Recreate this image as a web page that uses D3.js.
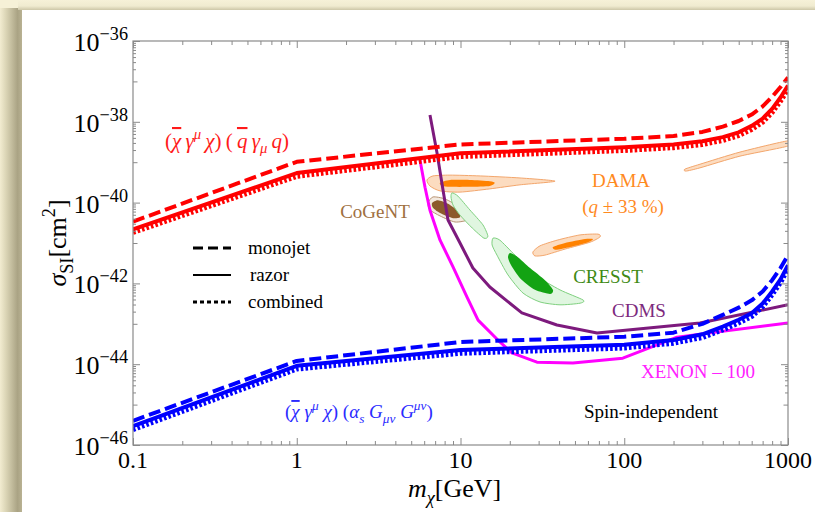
<!DOCTYPE html>
<html>
<head>
<meta charset="utf-8">
<script src="https://cdn.jsdelivr.net/npm/d3@7"></script>
<style>
  html, body { margin: 0; padding: 0; background: #f6f1d7; overflow: hidden; }
  svg { display: block; }
  .bar { text-decoration: overline; }
</style>
</head>
<body>
<svg id="chart" width="815" height="512"></svg>
<script>
// ---------------------------------------------------------------
// Collider bounds: dark-matter mass grid (GeV) and log10(sigma_SI / cm^2)
const massGrid = [0.1, 1, 10, 100, 200, 300, 400, 500, 600, 700, 800, 900, 1000];

// vector operator coupling to quarks
const vecMonojet  = [-40.47, -38.99, -38.56, -38.42, -38.35, -38.25, -38.12, -37.98, -37.82, -37.62, -37.38, -37.14, -36.90];
const vecRazor    = [-40.66, -39.27, -38.78, -38.63, -38.56, -38.48, -38.38, -38.26, -38.10, -37.92, -37.68, -37.40, -37.10];
const vecCombined = [-40.74, -39.35, -38.86, -38.71, -38.64, -38.56, -38.46, -38.34, -38.19, -38.01, -37.77, -37.49, -37.19];

// vector operator coupling to gluons
const gluMonojet  = [-45.40, -43.92, -43.45, -43.32, -43.22, -43.00, -42.78, -42.60, -42.42, -42.20, -41.92, -41.62, -41.30];
const gluRazor    = [-45.53, -44.04, -43.65, -43.52, -43.40, -43.26, -43.07, -42.90, -42.74, -42.50, -42.20, -41.90, -41.55];
const gluCombined = [-45.62, -44.12, -43.73, -43.60, -43.48, -43.34, -43.15, -42.98, -42.82, -42.58, -42.28, -41.98, -41.63];

// direct-detection exclusion limits: [mass GeV, log10 sigma]
const xenon100 = [[5.66, -38.95], [6.07, -39.62], [6.51, -40.19], [7.50, -40.93], [9.00, -41.59], [10.96, -42.34],
                  [12.8, -42.91], [17.4, -43.45], [20.6, -43.72], [29.3, -43.95], [48.6, -43.97], [98, -43.85],
                  [210, -43.33], [1000, -42.98]];
const cdms = [[6.51, -37.83], [7.19, -38.77], [7.82, -39.69], [8.39, -40.43], [9.93, -41.00], [11.9, -41.62],
              [15.1, -42.09], [23.7, -42.73], [38.8, -43.03], [68.2, -43.23], [290, -42.98], [1000, -42.53]];

// signal regions (contour outlines): [mass GeV, log10 sigma]
const damaOuterA = [[6.24, -39.44], [6.79, -39.34], [8.63, -39.32], [13.2, -39.34], [23.1, -39.39], [37.8, -39.47],
                    [23.1, -39.56], [15.1, -39.66], [9.93, -39.74], [7.50, -39.71], [6.51, -39.59]];
const damaInnerA = [[7.50, -39.51], [8.63, -39.44], [11.4, -39.44], [15.1, -39.47], [16.2, -39.51], [15.1, -39.59],
                    [11.4, -39.61], [8.63, -39.61], [7.71, -39.59]];
const damaOuterB = [[27.7, -41.22], [30.6, -41.07], [38.9, -40.93], [53.7, -40.80], [69.1, -40.78], [71.1, -40.85],
                    [61.8, -40.98], [43.5, -41.15], [32.8, -41.30], [28.5, -41.32]];
const damaInnerB = [[36.7, -41.10], [43.5, -41.00], [57.6, -40.90], [64.5, -40.90], [60.1, -40.98], [46.6, -41.10],
                    [38.3, -41.17]];
const damaOuterC = [[235, -39.17], [290, -39.05], [509, -38.75], [1000, -38.47], [1000, -38.60], [509, -38.85],
                    [290, -39.14], [238, -39.22]];
const cogentOuter = [[6.33, -40.01], [6.79, -39.86], [8.04, -39.91], [9.93, -40.11], [11.4, -40.31], [11.1, -40.43],
                     [9.26, -40.48], [7.50, -40.33], [6.51, -40.18]];
const cogentInner = [[6.70, -40.01], [7.29, -39.94], [8.39, -40.03], [9.65, -40.21], [9.93, -40.36], [8.88, -40.38],
                     [7.50, -40.26], [6.79, -40.13]];
const cresstOuterA = [[8.88, -39.76], [9.65, -39.84], [11.4, -40.18], [13.7, -40.55], [14.7, -40.83], [13.9, -40.88],
                      [11.8, -40.63], [9.93, -40.31], [9.00, -40.06], [8.75, -39.86]];
const cresstOuterB = [[15.8, -40.88], [17.4, -40.93], [21.5, -41.30], [28.5, -41.79], [40.5, -42.16], [56.0, -42.41],
                      [53.7, -42.49], [40.5, -42.53], [30.6, -42.46], [24.1, -42.24], [19.5, -41.79], [16.7, -41.30],
                      [15.6, -41.05]];
const cresstInner = [[20.1, -41.25], [22.4, -41.35], [26.6, -41.62], [32.8, -41.92], [36.7, -42.16], [35.2, -42.26],
                     [28.5, -42.16], [23.1, -41.87], [20.3, -41.54], [19.5, -41.35]];

// axis ticks
const xTickValues = [0.1, 1, 10, 100, 1000];
const xTickLabels = ["0.1", "1", "10", "100", "1000"];
const yTickExponents = [-36, -38, -40, -42, -44, -46];
const yTickLabels = ["\u221236", "\u221238", "\u221240", "\u221242", "\u221244", "\u221246"];

const legendNames = ["monojet", "razor", "combined"];

// ---------------------------------------------------------------
const W = 815, H = 512;
const P = { left: 133, right: 788, top: 41, bottom: 445 };
const SERIF = "'Liberation Serif', 'Times New Roman', 'DejaVu Serif', serif";
const svg = d3.select("#chart");

const x = d3.scaleLog().domain([0.1, 1000]).range([P.left, P.right]);
const y = d3.scaleLog().domain([1e-46, 1e-36]).range([P.bottom, P.top]);
const px = d => x(d[0]);
const py = d => y(Math.pow(10, d[1]));

// ---------- page frame with soft shadow ----------
const defs = svg.append("defs");
const gl = defs.append("linearGradient").attr("id", "shadeLeft")
  .attr("x1", 0).attr("x2", 1).attr("y1", 0).attr("y2", 0);
[[0, "#f2ecd1"], [0.25, "#ddd7b8"], [0.8, "#aaa384"], [1, "#b9b293"]].forEach(s =>
  gl.append("stop").attr("offset", s[0]).attr("stop-color", s[1]));
const gt = defs.append("linearGradient").attr("id", "shadeTop")
  .attr("x1", 0).attr("x2", 0).attr("y1", 0).attr("y2", 1);
[[0, "#f6f1d8"], [0.6, "#f0ebd0"], [1, "#cdc7a8"]].forEach(s =>
  gt.append("stop").attr("offset", s[0]).attr("stop-color", s[1]));

svg.append("rect").attr("width", W).attr("height", H).attr("fill", "#f6f1d7");
svg.append("rect").attr("x", 0).attr("y", 8).attr("width", 22).attr("height", H - 8).attr("fill", "url(#shadeLeft)");
svg.append("rect").attr("x", 18).attr("y", 0).attr("width", W - 18).attr("height", 10).attr("fill", "url(#shadeTop)");
svg.append("rect").attr("x", 22).attr("y", 10).attr("width", W - 22).attr("height", H - 10).attr("fill", "#ffffff");

defs.append("clipPath").attr("id", "plotClip").append("rect")
  .attr("x", P.left).attr("y", P.top).attr("width", P.right - P.left).attr("height", P.bottom - P.top);

// ---------- rich text helper (sub/superscripts, overbars) ----------
function rich(parent, x0, y0, size, parts, fill, anchor) {
  const t = parent.append("text").attr("x", x0).attr("y", y0)
    .attr("font-family", SERIF).attr("font-size", size).attr("fill", fill)
    .attr("text-anchor", anchor || "start");
  let cur = 0;
  parts.forEach(([s, kind, it]) => {
    const off = kind === "sup" ? -0.42 * size : kind === "sub" ? 0.26 * size : 0;
    const ts = t.append("tspan").text(s).attr("dy", off - cur);
    cur = off;
    if (kind === "sup" || kind === "sub") ts.attr("font-size", size * 0.7);
    if (kind === "bar") ts.attr("class", "bar");
    if (it) ts.attr("font-style", "italic");
  });
  return t;
}

// ---------- plot content ----------
const plotG = svg.append("g").attr("clip-path", "url(#plotClip)");

const blob = d3.line().x(px).y(py).curve(d3.curveCardinalClosed.tension(0.3));
function region(pts, fill, stroke) {
  plotG.append("path").attr("d", blob(pts)).attr("fill", fill)
    .attr("stroke", stroke || "none").attr("stroke-width", 1);
}
region(damaOuterA, "#fcdcc0", "#f3a66c");
region(damaInnerA, "#ff8200");
region(damaOuterB, "#fcdcc0", "#f3a66c");
region(damaInnerB, "#ff8200");
region(damaOuterC, "#fcdcc0", "#f3a66c");
region(cogentOuter, "#f3e9df", "#b89474");
region(cogentInner, "#8c5a2c");
region(cresstOuterA, "#e0f6e0", "#7fd07f");
region(cresstOuterB, "#e0f6e0", "#7fd07f");
region(cresstInner, "#13a313");

const poly = d3.line().x(px).y(py);
plotG.append("path").attr("d", poly(xenon100)).attr("fill", "none")
  .attr("stroke", "#ff00ff").attr("stroke-width", 3).attr("stroke-linejoin", "round");
plotG.append("path").attr("d", poly(cdms)).attr("fill", "none")
  .attr("stroke", "#7d1a7d").attr("stroke-width", 3).attr("stroke-linejoin", "round");

function boundSet(vals, color) {
  const [mono, raz, comb] = vals.map(v => massGrid.map((m, i) => [m, v[i]]));
  plotG.append("path").attr("d", poly(comb)).attr("fill", "none").attr("stroke", color)
    .attr("stroke-width", 5).attr("stroke-dasharray", "2.6,2.1").attr("stroke-linejoin", "round");
  plotG.append("path").attr("d", poly(raz)).attr("fill", "none").attr("stroke", color)
    .attr("stroke-width", 4).attr("stroke-linejoin", "round");
  plotG.append("path").attr("d", poly(mono)).attr("fill", "none").attr("stroke", color)
    .attr("stroke-width", 4).attr("stroke-dasharray", "12,5").attr("stroke-linejoin", "round");
}
boundSet([vecMonojet, vecRazor, vecCombined], "#ff0000");
boundSet([gluMonojet, gluRazor, gluCombined], "#0000ff");

// ---------- frame, ticks ----------
const frameColor = "#8a8a8a";
const minorX = [], minorY = [], midY = [];
for (let d = -1; d < 3; d++) for (let k = 2; k <= 9; k++) minorX.push(k * Math.pow(10, d));
for (let e = -45; e <= -37; e += 2) {
  midY.push(Math.pow(10, e));
  for (let k = 2; k <= 9; k++) minorY.push(k * Math.pow(10, e));
}
const yMajor = yTickExponents.map(e => Math.pow(10, e));

function axisGroup(axis, tx, ty) {
  const g = svg.append("g").attr("transform", `translate(${tx},${ty})`).call(axis);
  g.select(".domain").remove();
  g.selectAll("line").attr("stroke", frameColor).attr("stroke-width", 1);
  g.selectAll("text").remove();
}
[[d3.axisBottom, 0, P.bottom], [d3.axisTop, 0, P.top]].forEach(([A, tx, ty]) => {
  axisGroup(A(x).tickValues(xTickValues).tickSize(-7).tickSizeOuter(0), tx, ty);
  axisGroup(A(x).tickValues(minorX).tickSize(-4).tickSizeOuter(0), tx, ty);
});
[[d3.axisLeft, P.left, 0], [d3.axisRight, P.right, 0]].forEach(([A, tx, ty]) => {
  axisGroup(A(y).tickValues(yMajor).tickSize(-7).tickSizeOuter(0), tx, ty);
  axisGroup(A(y).tickValues(midY).tickSize(-4.5).tickSizeOuter(0), tx, ty);
  axisGroup(A(y).tickValues(minorY).tickSize(-3).tickSizeOuter(0), tx, ty);
});
svg.append("rect").attr("x", P.left).attr("y", P.top)
  .attr("width", P.right - P.left).attr("height", P.bottom - P.top)
  .attr("fill", "none").attr("stroke", frameColor).attr("stroke-width", 1.2);

// tick labels
xTickValues.forEach((v, i) => {
  svg.append("text").attr("x", x(v)).attr("y", P.bottom + 23)
    .attr("text-anchor", "middle").attr("font-family", SERIF).attr("font-size", 24)
    .attr("fill", "#000").text(xTickLabels[i]);
});
yTickExponents.forEach((e, i) => {
  rich(svg, P.left - 5, y(Math.pow(10, e)) + 10, 26,
    [["10", ""], [yTickLabels[i], "sup"]], "#000", "end");
});

// axis titles
rich(svg, 408, 497, 26, [["m", "", 1], ["\u03c7", "sub", 1], ["[GeV]", ""]], "#000");
const yt = svg.append("g").attr("transform", "translate(66,243) rotate(-90)");
rich(yt, 0, 0, 26, [["\u03c3", "", 1], ["SI", "sub"], ["[cm", ""], ["2", "sup"], ["]", ""]], "#000", "middle");

// ---------- annotations ----------
rich(svg, 165, 148, 21, [["(", ""], ["\u03c7", "bar", 1], ["\u2009\u03b3", "", 1], ["\u03bc", "sup", 1],
  ["\u2009\u03c7", "", 1], [")\u2009(\u2009", ""], ["q", "bar", 1], ["\u2009\u03b3", "", 1], ["\u03bc", "sub", 1],
  ["\u2009q", "", 1], [")", ""]], "#ff1a1a");
rich(svg, 285, 418, 19, [["(", ""], ["\u03c7", "bar", 1], [" \u03b3", "", 1], ["\u03bc", "sup", 1],
  [" \u03c7", "", 1], [") (", ""], ["\u03b1", "", 1], ["s", "sub", 1], [" G", "", 1], ["\u03bc\u03bd", "sub", 1],
  [" G", "", 1], ["\u03bc\u03bd", "sup", 1], [")", ""]], "#2b2bff");

const labelStyle = (t) => t.attr("font-family", SERIF).attr("font-size", 19);
labelStyle(svg.append("text").attr("x", 375).attr("y", 218).attr("text-anchor", "middle")
  .attr("fill", "#a0703f").text("CoGeNT"));
labelStyle(svg.append("text").attr("x", 621).attr("y", 187).attr("text-anchor", "middle")
  .attr("fill", "#ff8a1e").text("DAMA"));
rich(svg, 623, 213, 19, [["(", ""], ["q", "", 1], [" \u00b1 33 %)", ""]], "#ff8a1e", "middle");
labelStyle(svg.append("text").attr("x", 608).attr("y", 283).attr("text-anchor", "middle")
  .attr("fill", "#3f8a14").text("CRESST"));
labelStyle(svg.append("text").attr("x", 639).attr("y", 317).attr("text-anchor", "middle")
  .attr("fill", "#7d2a7d").text("CDMS"));
labelStyle(svg.append("text").attr("x", 698).attr("y", 378).attr("text-anchor", "middle")
  .attr("fill", "#ff22ff").text("XENON \u2013 100"));
labelStyle(svg.append("text").attr("x", 651).attr("y", 418).attr("text-anchor", "middle")
  .attr("fill", "#000").text("Spin-independent"));

// ---------- legend ----------
const legendDash = ["10,5", null, "4,3"];
const legendWidth = [3, 2, 3];
legendNames.forEach((name, i) => {
  const ly = 248 + i * 27;
  const l = svg.append("line").attr("x1", 193).attr("x2", 231).attr("y1", ly).attr("y2", ly)
    .attr("stroke", "#000").attr("stroke-width", legendWidth[i]);
  if (legendDash[i]) l.attr("stroke-dasharray", legendDash[i]);
  labelStyle(svg.append("text").attr("x", i === 1 ? 250 : 248).attr("y", ly + 6)
    .attr("fill", "#000").text(name));
});
</script>
</body>
</html>
